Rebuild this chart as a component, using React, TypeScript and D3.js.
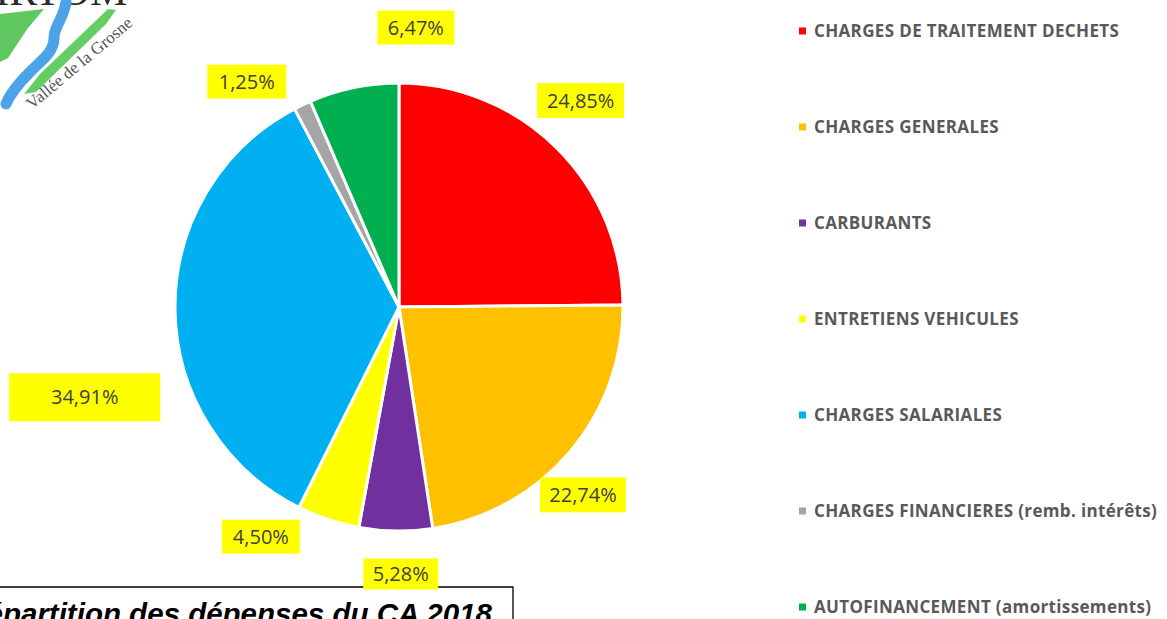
import React from "react";
import * as d3 from "d3";

const categories = [
  "CHARGES DE TRAITEMENT DECHETS",
  "CHARGES GENERALES",
  "CARBURANTS",
  "ENTRETIENS VEHICULES",
  "CHARGES SALARIALES",
  "CHARGES FINANCIERES (remb. intérêts)",
  "AUTOFINANCEMENT (amortissements)",
];
const values = [24.85, 22.74, 5.28, 4.5, 34.91, 1.25, 6.47];
const labels = ["24,85%", "22,74%", "5,28%", "4,50%", "34,91%", "1,25%", "6,47%"];
const colors = ["#FF0000", "#FFC000", "#7030A0", "#FFFF00", "#00B0F0", "#A5A5A5", "#00B050"];
const title = "Répartition des dépenses du CA 2018";

// label layout: angle nudge (deg), distance from centre, box width, box height
const labelLayout: [number, number, number, number][] = [
  [-3.4, 275, 87, 35],
  [5.2, 263, 86, 35],
  [-1.2, 267, 75, 31],
  [12.6, 268, 78, 34],
  [-15.4, 327, 151, 48],
  [-8.5, 272, 79, 34],
  [15.1, 280, 77, 34],
];

const W = 1167;
const H = 619;
const cx = 399;
const cy = 307;
const R = 224;

export default function App() {
  const pie = d3.pie<number>().sort(null).value((d) => d)(values);
  const arc = d3.arc<d3.PieArcDatum<number>>().innerRadius(0).outerRadius(R);
  const legendY = d3.scalePoint<string>().domain(categories).range([31, 607]);

  return (
    <svg
      width={W}
      height={H}
      style={{ position: "absolute", left: 0, top: 0, display: "block", background: "#fff" }}
    >
      {/* logo */}
      <g>
        <text x={-28} y={5} fontFamily="'Liberation Serif', serif" fontSize={42} fill="#2b2b2b">
          SIRTOM
        </text>
        <polygon points="0,14 44,9 28,28 8,58 0,62" fill="#4fc24f" opacity={0.9} />
        <path
          d="M66,2 C64,18 54,26 54,38 C54,52 42,60 30,72 C18,84 10,94 6,104"
          fill="none"
          stroke="#4da3ea"
          strokeWidth={11}
          strokeLinecap="round"
        />
        <polygon points="108,9 116,10 106,24 36,92 24,94 40,74" fill="#5ccb5c" opacity={0.95} />
        <text
          x={32}
          y={110}
          fontFamily="'Liberation Serif', serif"
          fontSize={17}
          fill="#555"
          transform="rotate(-40 32 110)"
        >
          Vallée de la Grosne
        </text>
      </g>

      {/* pie */}
      <g transform={`translate(${cx},${cy})`}>
        {pie.map((p, i) => (
          <path key={i} d={arc(p) || ""} fill={colors[i]} stroke="#fff" strokeWidth={3} strokeLinejoin="round" />
        ))}
      </g>

      {/* title box */}
      <g>
        <path d={`M0,587 H513 V${H + 2}`} fill="none" stroke="#000" strokeWidth={1.3} />
        <text
          x={492}
          y={624}
          textAnchor="end"
          fontFamily="'Liberation Sans', Arial, sans-serif"
          fontWeight="bold"
          fontStyle="italic"
          fontSize={29.5}
          fill="#000"
        >
          {title}
        </text>
      </g>

      {/* data labels */}
      {pie.map((p, i) => {
        const [dA, dist, bw, bh] = labelLayout[i];
        const a = (p.startAngle + p.endAngle) / 2 + (dA * Math.PI) / 180;
        const x = cx + dist * Math.sin(a);
        const y = cy - dist * Math.cos(a);
        return (
          <g key={i}>
            <rect x={x - bw / 2} y={y - bh / 2} width={bw} height={bh} fill="#FFFF00" />
            <text
              x={x}
              y={y}
              dy="0.36em"
              textAnchor="middle"
              fontFamily="'Open Sans', sans-serif"
              fontSize={20}
              fill="#404040"
            >
              {labels[i]}
            </text>
          </g>
        );
      })}

      {/* legend */}
      {categories.map((c, i) => {
        const y = legendY(c) as number;
        return (
          <g key={c}>
            <rect x={799} y={y - 3.5} width={7} height={7} fill={colors[i]} />
            <text
              x={814}
              y={y}
              dy="0.36em"
              fontFamily="'Open Sans', sans-serif"
              fontWeight="bold"
              fontSize={17}
              letterSpacing={0.35}
              fill="#595959"
            >
              {c}
            </text>
          </g>
        );
      })}
    </svg>
  );
}
